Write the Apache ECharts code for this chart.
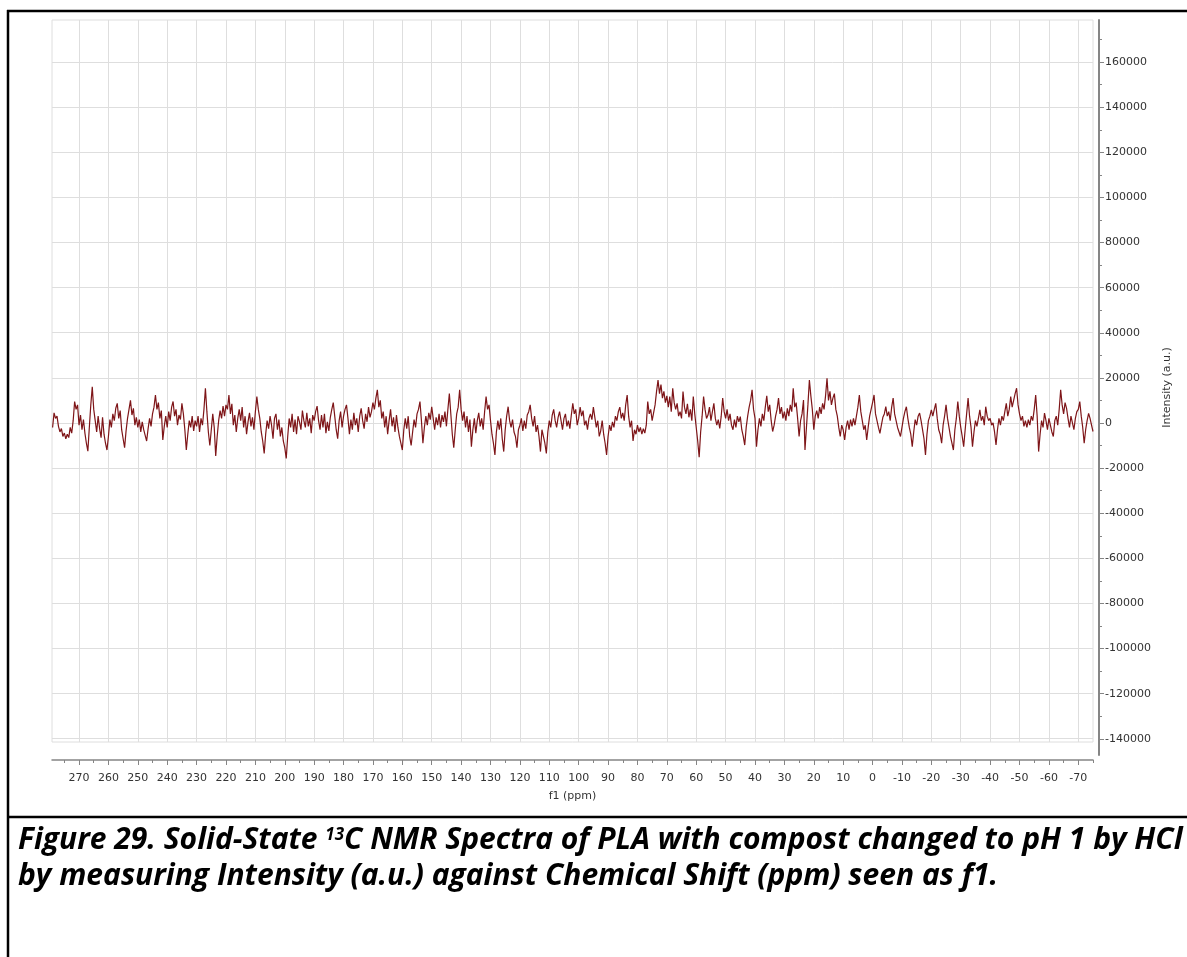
<!DOCTYPE html>
<html>
<head>
<meta charset="utf-8">
<script src="https://cdn.jsdelivr.net/npm/echarts@6/dist/echarts.min.js"></script>
<style>
html,body{margin:0;padding:0;background:#fff;}
#c{width:1187px;height:957px;}
</style>
</head>
<body>
<div id="c"></div>
<script>
// ---- data ----
const ppmStart = 279;      // first sample, ppm
const ppmStep = 0.5;       // sample spacing, ppm (descending)
const intensity = [
-2000,4500,2000,3000,-1500,-4000,-2500,-6000,-4500,-7000,-5000,-6500,-2000,-4500,1000,9500,6000,8000,
-1000,3500,-3000,1500,-4500,-9000,-12500,-2000,8000,16000,6000,1000,-4000,3000,-2500,-6500,2500,-5000,-9000,-12000,
-6000,1500,-2000,4000,1000,6500,8700,2000,5500,-3000,-7000,-11000,-3500,2000,6000,10000,3500,6500,-1000,2500,
-2000,1500,-4000,500,-3000,-5500,-8000,-2500,2000,-1500,4000,7000,12400,6000,9000,2000,5500,-7500,-1500,3000,
-2000,5000,1000,7000,9500,3000,6000,-1000,3500,1500,8700,4000,-3000,-12000,-5000,1000,-2000,3000,-3500,1000,
-1500,3000,-4000,2000,-1000,6000,15400,5000,-4000,-10000,-3000,4000,-2000,-14600,-6000,1000,5500,2000,7500,3000,
8000,6000,12400,4000,8500,-1000,3500,-4000,2000,6000,1000,7000,-2000,3000,-5000,500,4500,-1500,2500,-3000,
5000,11700,6000,2000,-4000,-8000,-13500,-5000,1000,-2500,3000,-1000,-7000,2000,4000,-3000,1500,-6000,-2000,-8000,
-11000,-15700,-6000,2000,-2000,4000,-4000,1500,-5000,3000,500,-3000,5500,1000,-2000,4500,-1500,2000,-4500,3500,
1000,5000,7500,1000,-3000,3500,-2000,4000,-4500,500,-3500,2500,6000,9000,3000,-3000,-7000,1000,5000,-2000,
3000,6000,8000,2000,-5000,1500,-3000,4500,-1000,2000,-4000,3000,6500,1000,-2500,4000,500,7000,2500,5000,
9000,6000,11000,14700,7000,10000,2000,5000,-2000,3000,-5000,1000,6000,-1500,2500,-4000,3500,-2000,-6000,-9000,
-12000,-3000,2000,-2500,3000,-6000,-10000,-4000,1500,-2000,4000,6000,9500,1000,-9000,-2000,3000,-1000,4500,1500,
7200,2000,-3000,2500,-1000,4000,-2000,3500,500,5000,-1500,6000,13000,4000,-5000,-11000,-3000,4000,7000,14700,
6000,1000,5000,-2000,3000,-4000,1500,-10500,-3000,2000,-4500,1000,4500,-1500,2000,-3000,5000,11700,6000,8000,
1000,-5000,-9000,-14200,-4000,1000,-3000,2000,-7000,-12700,-3000,3000,7200,1000,-2000,1500,-4000,-6000,-11000,-3000,
-1000,2000,-3500,1000,-2500,3500,5000,8000,2000,-1500,3000,-4000,-1000,-6000,-12700,-3000,-6000,-9000,-13500,-4000,
1000,-2000,3500,6000,1000,-2000,2500,5000,1000,-3000,2000,4000,-1500,1000,-2500,3500,8700,4000,6000,-1000,
2000,7000,3000,5500,-1000,1000,-3000,2000,4000,1500,7000,2500,-2000,1000,-6000,-3500,1000,-5000,-9000,-14200,
-6000,-1000,-3500,500,-2000,3000,1000,5000,7000,2000,4500,1000,8000,12400,3000,-2000,1000,-8000,-3000,-5000,
-1000,-4000,-2000,-5000,-2500,-4500,-1000,9500,4000,6000,1000,500,8000,14000,19000,13000,17000,11000,14000,9000,
12000,7000,11700,5000,15400,9000,6000,8700,3000,5000,2000,13900,7000,4000,8500,2500,6000,1000,11700,4000,
-2000,-8000,-15200,-4000,3000,11700,6000,2000,3500,7000,1000,5000,8700,2000,-1000,1500,-2400,3000,11000,5000,
2000,6000,1000,4000,-1000,-3000,1500,-2000,3000,500,2800,-3000,-6000,-9800,-2000,3000,7000,10000,14700,6000,
2000,-10500,-3000,2000,-1500,4000,1000,7000,12000,5000,8000,1000,-3800,-1000,3000,6000,11000,4000,7000,2000,
5000,1000,6500,3000,8000,5000,15400,7000,9000,2000,-6000,1000,4000,10200,-12000,-2000,8000,19000,12000,6000,
-3000,3000,5500,2000,7000,4000,8700,6000,12000,19800,10000,14000,8000,11000,13000,6000,3000,-2000,-6000,-1000,
-3000,-7500,-2000,1000,-3000,1500,-1500,2000,-1000,3000,7000,12400,5000,1000,-3000,-1000,-7500,-2000,3000,6000,
9000,12400,4000,1000,-2000,-4600,-1000,2500,4000,7200,3000,5000,1000,7000,11000,4000,1000,-2000,-4000,-6000,
-2000,2000,5000,7200,2000,-2000,-5000,-10500,-4000,1500,-1000,3000,4400,1000,-3000,-7000,-14200,-5000,1000,3000,
5800,3000,6000,8700,2000,-3000,-5000,-9000,-1000,3000,8000,2000,-2000,-6000,-9000,-12000,-3000,2000,9500,3000,
-2000,-6000,-10500,-3000,4000,11000,3000,-2000,-10500,-4000,1000,-1500,2000,5800,1000,3000,-1000,7200,3000,1000,
2000,-1000,0,-4000,-9800,-3000,2000,-1000,3000,1000,5000,8700,3000,6000,11700,7000,10000,13000,15400,8000,
4000,1000,3000,-1500,1000,-2000,1500,-1000,3000,1000,6000,12400,3000,-12700,-5000,1000,-2000,4400,1000,-3000,
2000,-1000,-4000,-6000,1000,3000,-1000,6000,14700,8000,4000,9000,6500,2000,-2000,3000,0,-3000,2000,5000,
6000,9500,3000,-2000,-9000,-3000,1000,4200,2000,-1000,-3800
];
const xTickLabels = [270,260,250,240,230,220,210,200,190,180,170,160,150,140,130,120,110,100,90,80,70,60,50,40,30,20,10,0,-10,-20,-30,-40,-50,-60,-70];
const xMinorTicks = [275,265,255,245,235,225,215,205,195,185,175,165,155,145,135,125,115,105,95,85,75,65,55,45,35,25,15,5,-5,-15,-25,-35,-45,-55,-65,-75];
const yTickLabels = [-140000,-120000,-100000,-80000,-60000,-40000,-20000,0,20000,40000,60000,80000,100000,120000,140000,160000];
const yMinorTicks = [-130000,-110000,-90000,-70000,-50000,-30000,-10000,10000,30000,50000,70000,90000,110000,130000,150000,170000];
const xAxisTitle = 'f1 (ppm)';
const yAxisTitle = 'Intensity (a.u.)';
const captionLine1a = 'Figure 29. Solid-State ';
const captionSup = '13';
const captionLine1b = 'C NMR Spectra of PLA with compost changed to pH 1 by HCl';
const captionLine2 = 'by measuring Intensity (a.u.) against Chemical Shift (ppm) seen as f1.';

// ---- build series ----
const seriesData = intensity.map((v, i) => [ppmStart - i * ppmStep, v]);

const X_MIN = -75, X_MAX = 279.2;
const Y0_MIN = -141500, Y0_MAX = 178700;
const Y1_MIN = -147200, Y1_MAX = 178700;
const axisGray = '#858585';
const gridGray = '#dedede';
const labelFont = {color:'#333', fontSize:11, fontFamily:'DejaVu Sans'};
const plain = v => String(v);

// caption fonts & widths (for placing the superscript inline)
const capFont = 'italic bold 30px "Open Sans"';
const supFont = 'italic bold 17px "Open Sans"';
const mctx = document.createElement('canvas').getContext('2d');
mctx.font = capFont;
const wA = mctx.measureText(captionLine1a).width;
mctx.font = supFont;
const wS = mctx.measureText(captionSup).width;
const capX = 18;

const chart = echarts.init(document.getElementById('c'), null, {renderer:'canvas'});
chart.setOption({
  animation:false,
  backgroundColor:'#fff',
  grid:[
    {left:52, top:20, width:1041, height:722, show:true, borderColor:gridGray, borderWidth:1, backgroundColor:'transparent'},
    {left:52, top:20, width:1041, height:735, show:false}
  ],
  xAxis:[
    {gridIndex:0, type:'value', inverse:true, min:X_MIN, max:X_MAX,
     axisLine:{show:false, onZero:false}, axisLabel:{show:false},
     axisTick:{show:false, customValues:xTickLabels},
     splitLine:{show:true, lineStyle:{color:gridGray, width:1}}},
    {gridIndex:0, type:'value', inverse:true, min:X_MIN, max:X_MAX, position:'bottom', offset:18,
     axisLine:{show:true, onZero:false, lineStyle:{color:axisGray, width:1.5}},
     axisTick:{show:true, customValues:xTickLabels, length:5, lineStyle:{color:axisGray, width:1}},
     axisLabel:Object.assign({show:true, customValues:xTickLabels, margin:13, formatter:plain}, labelFont),
     splitLine:{show:false},
     name:xAxisTitle, nameLocation:'middle', nameGap:31, nameTextStyle:labelFont},
    {gridIndex:0, type:'value', inverse:true, min:X_MIN, max:X_MAX, position:'bottom', offset:18,
     axisLine:{show:false, onZero:false},
     axisTick:{show:true, customValues:xMinorTicks, length:3, lineStyle:{color:axisGray, width:1}},
     axisLabel:{show:false}, splitLine:{show:false}},
    {gridIndex:1, type:'value', inverse:true, min:X_MIN, max:X_MAX, show:false, axisLine:{onZero:false}}
  ],
  yAxis:[
    {gridIndex:0, type:'value', min:Y0_MIN, max:Y0_MAX,
     axisLine:{show:false, onZero:false}, axisLabel:{show:false},
     axisTick:{show:false, customValues:yTickLabels},
     splitLine:{show:true, lineStyle:{color:gridGray, width:1}}},
    {gridIndex:1, type:'value', position:'right', offset:6, min:Y1_MIN, max:Y1_MAX,
     axisLine:{show:true, onZero:false, lineStyle:{color:axisGray, width:2}},
     axisTick:{show:true, customValues:yTickLabels, length:5, lineStyle:{color:axisGray, width:1}},
     axisLabel:Object.assign({show:true, customValues:yTickLabels, margin:6, formatter:plain}, labelFont),
     splitLine:{show:false},
     name:yAxisTitle, nameLocation:'middle', nameRotate:90, nameGap:58, nameTextStyle:labelFont},
    {gridIndex:1, type:'value', position:'right', offset:6, min:Y1_MIN, max:Y1_MAX,
     axisLine:{show:false, onZero:false},
     axisTick:{show:true, customValues:yMinorTicks, length:3, lineStyle:{color:axisGray, width:1}},
     axisLabel:{show:false}, splitLine:{show:false}}
  ],
  series:[{
    type:'line', xAxisIndex:0, yAxisIndex:0, data:seriesData,
    showSymbol:false, symbol:'none', silent:true, clip:true,
    lineStyle:{color:'#7e1518', width:1.2}
  }],
  graphic:[
    {type:'line', shape:{x1:8, y1:10, x2:8, y2:957}, style:{stroke:'#000', lineWidth:2.5}},
    {type:'line', shape:{x1:7, y1:11, x2:1187, y2:11}, style:{stroke:'#000', lineWidth:2.5}},
    {type:'line', shape:{x1:7, y1:817, x2:1187, y2:817}, style:{stroke:'#000', lineWidth:2.5}},
    {type:'text', x:capX, y:825, style:{text:captionLine1a, font:capFont, fill:'#000', verticalAlign:'top'}},
    {type:'text', x:capX + wA, y:827, style:{text:captionSup, font:supFont, fill:'#000', verticalAlign:'top'}},
    {type:'text', x:capX + wA + wS, y:825, style:{text:captionLine1b, font:capFont, fill:'#000', verticalAlign:'top'}},
    {type:'text', x:capX, y:861, style:{text:captionLine2, font:capFont, fill:'#000', verticalAlign:'top'}}
  ]
});
</script>
</body>
</html>
